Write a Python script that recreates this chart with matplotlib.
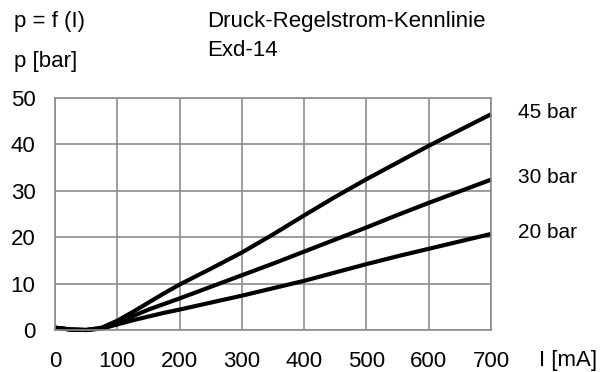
import matplotlib.pyplot as plt
import matplotlib.transforms as mtransforms

plt.rcParams['font.family'] = ['Liberation Sans', 'DejaVu Sans']

# Regelstrom I [mA]
strom = [0, 25, 50, 75, 100, 125, 150, 175, 200, 250, 300, 350, 400, 450, 500, 550, 600, 650, 700]
# Druck p [bar] je Kennlinie
p_45 = [0.5, 0.1, 0.0, 0.5, 2.0, 3.9, 5.9, 7.9, 9.8, 13.2, 16.7, 20.6, 24.7, 28.7, 32.5, 36.1, 39.7, 43.1, 46.5]
p_30 = [0.5, 0.1, 0.0, 0.4, 1.6, 3.0, 4.4, 5.6, 6.8, 9.3, 11.8, 14.3, 16.9, 19.5, 22.1, 24.8, 27.4, 29.9, 32.4]
p_20 = [0.5, 0.1, 0.0, 0.3, 1.2, 2.1, 2.9, 3.7, 4.4, 5.9, 7.4, 9.0, 10.6, 12.4, 14.2, 15.9, 17.5, 19.1, 20.7]
kurven = [("45 bar", p_45), ("30 bar", p_30), ("20 bar", p_20)]

x_ticks = [0, 100, 200, 300, 400, 500, 600, 700]
y_ticks = [0, 10, 20, 30, 40, 50]

fig = plt.figure(figsize=(6.07, 3.72), dpi=100)
ax = fig.add_axes([0.0906, 0.1129, 0.7184, 0.6237])

# Beschriftung rechts neben dem Kurvenende
trans = mtransforms.blended_transform_factory(ax.transAxes, ax.transData)
for name, werte in kurven:
    ax.plot(strom, werte, color='black', lw=3.0, solid_capstyle='butt',
            solid_joinstyle='round', clip_on=False)
    ax.text(1.061, werte[-1] + 0.4, name, transform=trans,
            fontsize=15, va='center', ha='left')

ax.set_xlim(0, 700)
ax.set_ylim(0, 50)
ax.set_xticks(x_ticks)
ax.set_yticks(y_ticks)
ax.tick_params(length=0, labelsize=16)
ax.tick_params(axis='y', pad=14)
ax.tick_params(axis='x', pad=15)
ax.grid(True, color='#8c8c8c', lw=1.2)
ax.set_axisbelow(True)
for s in ax.spines.values():
    s.set_color('#8c8c8c')
    s.set_linewidth(1.2)

fig.text(0.023, 0.941, "p = f (I)", fontsize=16, va='center')
fig.text(0.023, 0.836, "p [bar]", fontsize=16, va='center')
fig.text(0.341, 0.943, "Druck-Regelstrom-Kennlinie", fontsize=16, va='center')
fig.text(0.341, 0.864, "Exd-14", fontsize=16, va='center')
fig.text(0.888, 0.032, "I [mA]", fontsize=16, va='center')

fig.savefig('out.png', dpi=100)
